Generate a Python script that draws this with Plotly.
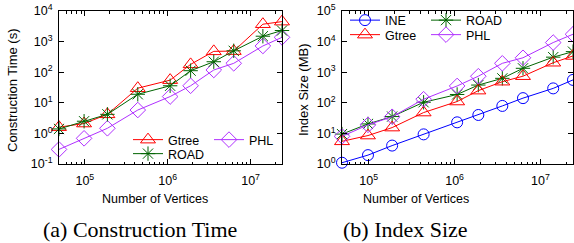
import plotly.graph_objects as go

# ---------------- data ----------------
vertices = [48812, 97975, 187315, 435666, 1070376, 1890815, 3598623, 6262104, 14081816, 23947347]

# (a) Construction Time (s)
ct_gtree = [1.6, 2.1, 4.2, 30, 55, 180, 480, 490, 3700, 4500]
ct_road = [1.4, 2.5, 4.2, 19, 36, 112, 220, 500, 1500, 2300]
ct_phl = [0.30, 0.69, 1.47, 5.8, 16, 36, 118, 195, 720, 1380]

# (b) Index Size (MB)
is_ine = [1.1, 1.95, 4.0, 9.3, 23, 40, 79, 142, 296, 560]
is_gtree = [5.5, 8.5, 15.5, 48, 110, 250, 490, 740, 2040, 3400]
is_road = [9.5, 20.4, 35.5, 104, 187, 380, 630, 1340, 3100, 4700]
is_phl = [8.0, 19, 35, 131, 355, 740, 1950, 2960, 9300, 17400]

x_tickvals = [1e5, 1e6, 1e7]
x_ticktext = ["10<sup>5</sup>", "10<sup>6</sup>", "10<sup>7</sup>"]
y1_tickvals = [0.1, 1, 10, 100, 1000, 10000]
y1_ticktext = ["10<sup>-1</sup>", "10<sup>0</sup>", "10<sup>1</sup>", "10<sup>2</sup>", "10<sup>3</sup>", "10<sup>4</sup>"]
y2_tickvals = [1, 10, 100, 1000, 10000, 100000]
y2_ticktext = ["10<sup>0</sup>", "10<sup>1</sup>", "10<sup>2</sup>", "10<sup>3</sup>", "10<sup>4</sup>", "10<sup>5</sup>"]

# ---------------- style ----------------
RED = "#ff0000"
GREEN = "#006400"
BLUE = "#0000ff"
PURPLE = "#b030ff"
SANS = "Liberation Sans, Arial, sans-serif"
SERIF = "Liberation Serif, Times New Roman, serif"
W, H = 574, 243

def px(xp):
    return xp / W

def py(yp):
    return 1 - yp / H

fig = go.Figure()

def add(x, y, name, color, symbol, size, xa, ya, legend):
    fig.add_trace(go.Scatter(
        x=x, y=y, name=name, mode="lines+markers",
        line=dict(color=color, width=1),
        marker=dict(symbol=symbol, size=size, color=color, line=dict(color=color, width=1)),
        xaxis=xa, yaxis=ya, legend=legend, cliponaxis=False,
    ))

# left panel
add(vertices, ct_gtree, "Gtree", RED, "triangle-up-open", 13, "x", "y", "legend")
add(vertices, ct_phl, "PHL", PURPLE, "diamond-open", 12, "x", "y", "legend")
add(vertices, ct_road, "ROAD", GREEN, "asterisk-open", 12, "x", "y", "legend2")
# right panel
add(vertices, is_ine, "INE", BLUE, "circle-open", 11, "x2", "y2", "legend3")
add(vertices, is_road, "ROAD", GREEN, "asterisk-open", 12, "x2", "y2", "legend3")
add(vertices, is_gtree, "Gtree", RED, "triangle-up-open", 13, "x2", "y2", "legend4")
add(vertices, is_phl, "PHL", PURPLE, "diamond-open", 12, "x2", "y2", "legend4")

xr = [4.6885, 7.3793]
common_x = dict(
    type="log", range=xr, tickvals=x_tickvals, ticktext=x_ticktext,
    ticks="inside", ticklen=5, tickcolor="black", showline=True, linecolor="black",
    linewidth=1, mirror="ticks", showgrid=False, zeroline=False, automargin=False,
    tickfont=dict(family=SANS, size=12.5, color="black"), ticklabelstandoff=5,
    minor=dict(ticks="inside", ticklen=2.5, dtick="D1", tickcolor="black", showgrid=False),
)
common_y = dict(
    type="log", ticks="inside", ticklen=5, tickcolor="black", showline=True,
    linecolor="black", linewidth=1, mirror="ticks", showgrid=False, zeroline=False,
    automargin=False,
    tickfont=dict(family=SANS, size=12.5, color="black"), ticklabelstandoff=3,
)

ydom = [py(164), py(11)]
fig.update_layout(
    xaxis=dict(common_x, domain=[px(59), px(282)], anchor="y"),
    yaxis=dict(common_y, domain=ydom, range=[-1, 4], tickvals=y1_tickvals,
               ticktext=y1_ticktext, anchor="x"),
    xaxis2=dict(common_x, domain=[px(342), px(573)], anchor="y2"),
    yaxis2=dict(common_y, domain=ydom, range=[0, 5], tickvals=y2_tickvals,
                ticktext=y2_ticktext, anchor="x2"),
)

leg_common = dict(orientation="h", xanchor="left", yanchor="middle",
                  bgcolor="rgba(0,0,0,0)", borderwidth=0,
                  font=dict(family=SANS, size=12.5, color="black"),
                  itemwidth=30, entrywidth=36, entrywidthmode="pixels",
                  tracegroupgap=0, itemclick=False)
fig.update_layout(
    legend=dict(leg_common, x=px(128), y=py(140)),
    legend2=dict(leg_common, x=px(128), y=py(154)),
    legend3=dict(leg_common, x=px(345), y=py(20.5)),
    legend4=dict(leg_common, x=px(345), y=py(35)),
)

ann = []
def text(xp, yp, s, size, family, angle=0):
    ann.append(dict(x=px(xp), y=py(yp), xref="paper", yref="paper", text=s,
                    showarrow=False, textangle=angle, xanchor="center", yanchor="middle",
                    font=dict(family=family, size=size, color="black")))

text(155, 199, "Number of Vertices", 12.5, SANS)
text(416, 199, "Number of Vertices", 12.5, SANS)
text(12, 90, "Construction Time (s)", 13, SANS, -90)
text(303, 90, "Index Size (MB)", 13, SANS, -90)
text(139.5, 229, "(a) Construction Time", 22, SERIF)
text(405, 229, "(b) Index Size", 22, SERIF)

fig.update_layout(
    template="none",
    annotations=ann,
    width=W, height=H,
    margin=dict(l=0, r=0, t=0, b=0, pad=0, autoexpand=False),
    paper_bgcolor="white", plot_bgcolor="white",
    showlegend=True,
    hovermode=False,
    font=dict(family=SANS, color="black"),
)

fig.write_html(
    "out.html",
    config={"displayModeBar": False, "staticPlot": False},
    post_script="document.body.style.margin='0';document.body.style.padding='0';",
)
